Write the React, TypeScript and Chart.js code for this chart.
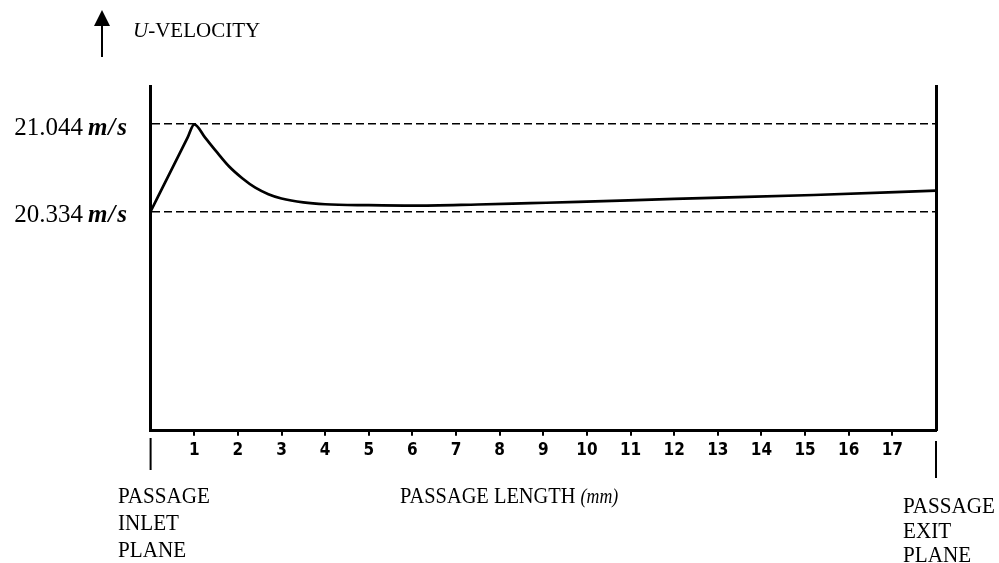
import { useEffect, useRef } from 'react';
import { Chart, registerables } from 'chart.js';

Chart.register(...registerables);

// ---- data ----
const passageLengthMm = [0, 0.5, 0.85, 1, 1.25, 1.5, 1.8, 2.1, 2.4, 2.7, 3, 3.5, 4, 5, 6, 7.5, 8.7, 9.8, 12, 15.2, 18];
const uVelocity = [20.334, 20.689, 20.937, 21.044, 20.935, 20.825, 20.7, 20.605, 20.528, 20.475, 20.44, 20.408, 20.393, 20.385, 20.381, 20.391, 20.402, 20.412, 20.437, 20.468, 20.503];
const referenceVelocities = [20.334, 21.044];
const referenceLabels = ['20.334', '21.044'];
const xTickValues = [1, 2, 3, 4, 5, 6, 7, 8, 9, 10, 11, 12, 13, 14, 15, 16, 17];
const xMin = 0;
const xMax = 18;
const yMin = 18.549;
const yMax = 21.35;
const yAxisTitle = ['U', '-VELOCITY'];
const xAxisTitle = ['PASSAGE LENGTH ', '(mm)'];
const inletLabel = ['PASSAGE', 'INLET', 'PLANE'];
const exitLabel = ['PASSAGE', 'EXIT', 'PLANE'];

const SERIF = '"Liberation Serif", "Times New Roman", serif';

type Seg = { text: string; font: string };

function drawSegs(ctx: CanvasRenderingContext2D, segs: Seg[], x: number, y: number, align: 'left' | 'right', gaps: number[] = []) {
  ctx.save();
  ctx.textBaseline = 'alphabetic';
  ctx.textAlign = 'left';
  ctx.fillStyle = '#000';
  const widths = segs.map((s) => {
    ctx.font = s.font;
    return ctx.measureText(s.text).width;
  });
  const total = widths.reduce((a, b) => a + b, 0) + gaps.reduce((a, b) => a + b, 0);
  let cx = align === 'left' ? x : x - total;
  segs.forEach((s, i) => {
    ctx.font = s.font;
    ctx.fillText(s.text, cx, y);
    cx += widths[i] + (gaps[i] || 0);
  });
  ctx.restore();
}

function drawCondensed(ctx: CanvasRenderingContext2D, text: string, font: string, x: number, y: number, sx: number) {
  ctx.save();
  ctx.translate(x, y);
  ctx.scale(sx, 1);
  ctx.font = font;
  ctx.fillStyle = '#000';
  ctx.textBaseline = 'alphabetic';
  ctx.textAlign = 'left';
  ctx.fillText(text, 0, 0);
  ctx.restore();
}

const annotations = {
  id: 'annotations',
  afterDraw(chart: any) {
    const ctx: CanvasRenderingContext2D = chart.ctx;
    const xs = chart.scales.x;
    const ys = chart.scales.y;

    // vertical arrow for the U-velocity axis title
    ctx.save();
    ctx.strokeStyle = '#000';
    ctx.fillStyle = '#000';
    ctx.lineWidth = 2;
    ctx.beginPath();
    ctx.moveTo(102, 24);
    ctx.lineTo(102, 57);
    ctx.stroke();
    ctx.beginPath();
    ctx.moveTo(102, 10);
    ctx.lineTo(94, 26);
    ctx.lineTo(110, 26);
    ctx.closePath();
    ctx.fill();
    ctx.restore();

    drawSegs(
      ctx,
      [
        { text: yAxisTitle[0], font: `italic 21px ${SERIF}` },
        { text: yAxisTitle[1], font: `21px ${SERIF}` },
      ],
      133,
      37,
      'left'
    );

    // y reference labels
    referenceVelocities.forEach((v, i) => {
      const py = ys.getPixelForValue(v);
      drawSegs(
        ctx,
        [
          { text: referenceLabels[i], font: `25px ${SERIF}` },
          { text: 'm', font: `italic bold 25px ${SERIF}` },
          { text: '/', font: `italic bold 25px ${SERIF}` },
          { text: 's', font: `italic bold 25px ${SERIF}` },
        ],
        127,
        py + 11,
        'right',
        [5, 1, 2]
      );
    });

    // inlet / exit plane markers
    const xIn = xs.getPixelForValue(xMin);
    const xOut = xs.getPixelForValue(xMax);
    ctx.save();
    ctx.strokeStyle = '#000';
    ctx.lineWidth = 2;
    ctx.beginPath();
    ctx.moveTo(xIn, 438);
    ctx.lineTo(xIn, 470);
    ctx.moveTo(xOut, 441);
    ctx.lineTo(xOut, 478);
    ctx.stroke();
    ctx.restore();

    const f = `24px ${SERIF}`;
    inletLabel.forEach((t, i) => drawCondensed(ctx, t, f, 118, 503 + i * 27, 0.88));
    exitLabel.forEach((t, i) => drawCondensed(ctx, t, f, 903, 513 + i * 24.5, 0.88));

    // x axis title
    ctx.save();
    ctx.translate(400, 503);
    ctx.scale(0.85, 1);
    drawSegs(
      ctx,
      [
        { text: xAxisTitle[0], font: `24px ${SERIF}` },
        { text: xAxisTitle[1], font: `italic 21px ${SERIF}` },
      ],
      0,
      0,
      'left'
    );
    ctx.restore();
  },
};

export default function App() {
  const canvasRef = useRef<HTMLCanvasElement>(null);

  useEffect(() => {
    if (!canvasRef.current) return;
    const points = passageLengthMm.map((x, i) => ({ x, y: uVelocity[i] }));
    const chart = new Chart(canvasRef.current, {
      type: 'line',
      data: {
        datasets: [
          {
            data: points,
            borderColor: '#000',
            borderWidth: 2.7,
            pointRadius: 0,
            fill: false,
            cubicInterpolationMode: 'monotone',
            xAxisID: 'x',
            yAxisID: 'y',
          },
        ],
      },
      options: {
        animation: false,
        responsive: true,
        maintainAspectRatio: false,
        layout: { padding: { top: 86.7, left: 0, right: 0, bottom: 0 } },
        plugins: { legend: { display: false }, tooltip: { enabled: false } },
        scales: {
          x: {
            type: 'linear',
            min: xMin,
            max: xMax,
            afterBuildTicks: (s: any) => {
              s.ticks = xTickValues.map((v) => ({ value: v }));
            },
            afterFit: (s: any) => {
              s.height = 563 - 430.7;
            },
            ticks: {
              color: '#000',
              padding: 5,
              autoSkip: false,
              maxRotation: 0,
              font: { family: '"DejaVu Sans Condensed", "DejaVu Sans", sans-serif', size: 17, weight: 'bold' },
            },
            grid: { drawOnChartArea: false, drawTicks: true, tickLength: 5, color: '#000', lineWidth: 2 },
            border: { display: true, color: '#000', width: 3 },
          },
          y: {
            type: 'linear',
            min: yMin,
            max: yMax,
            afterBuildTicks: (s: any) => {
              s.ticks = referenceVelocities.map((v) => ({ value: v }));
            },
            afterFit: (s: any) => {
              s.width = 150.6;
            },
            ticks: { display: false },
            grid: { color: '#000', lineWidth: 1.6, drawTicks: false },
            border: { display: true, color: '#000', width: 3, dash: [8, 4] },
          },
          y2: {
            type: 'linear',
            position: 'right',
            min: yMin,
            max: yMax,
            afterFit: (s: any) => {
              s.width = 999 - 936;
            },
            ticks: { display: false },
            grid: { display: false },
            border: { display: true, color: '#000', width: 3 },
          },
        },
      },
      plugins: [annotations],
    } as any);
    return () => chart.destroy();
  }, []);

  return (
    <div style={{ position: 'fixed', left: 0, top: 0, width: 999, height: 563, background: '#fff' }}>
      <canvas ref={canvasRef} />
    </div>
  );
}
